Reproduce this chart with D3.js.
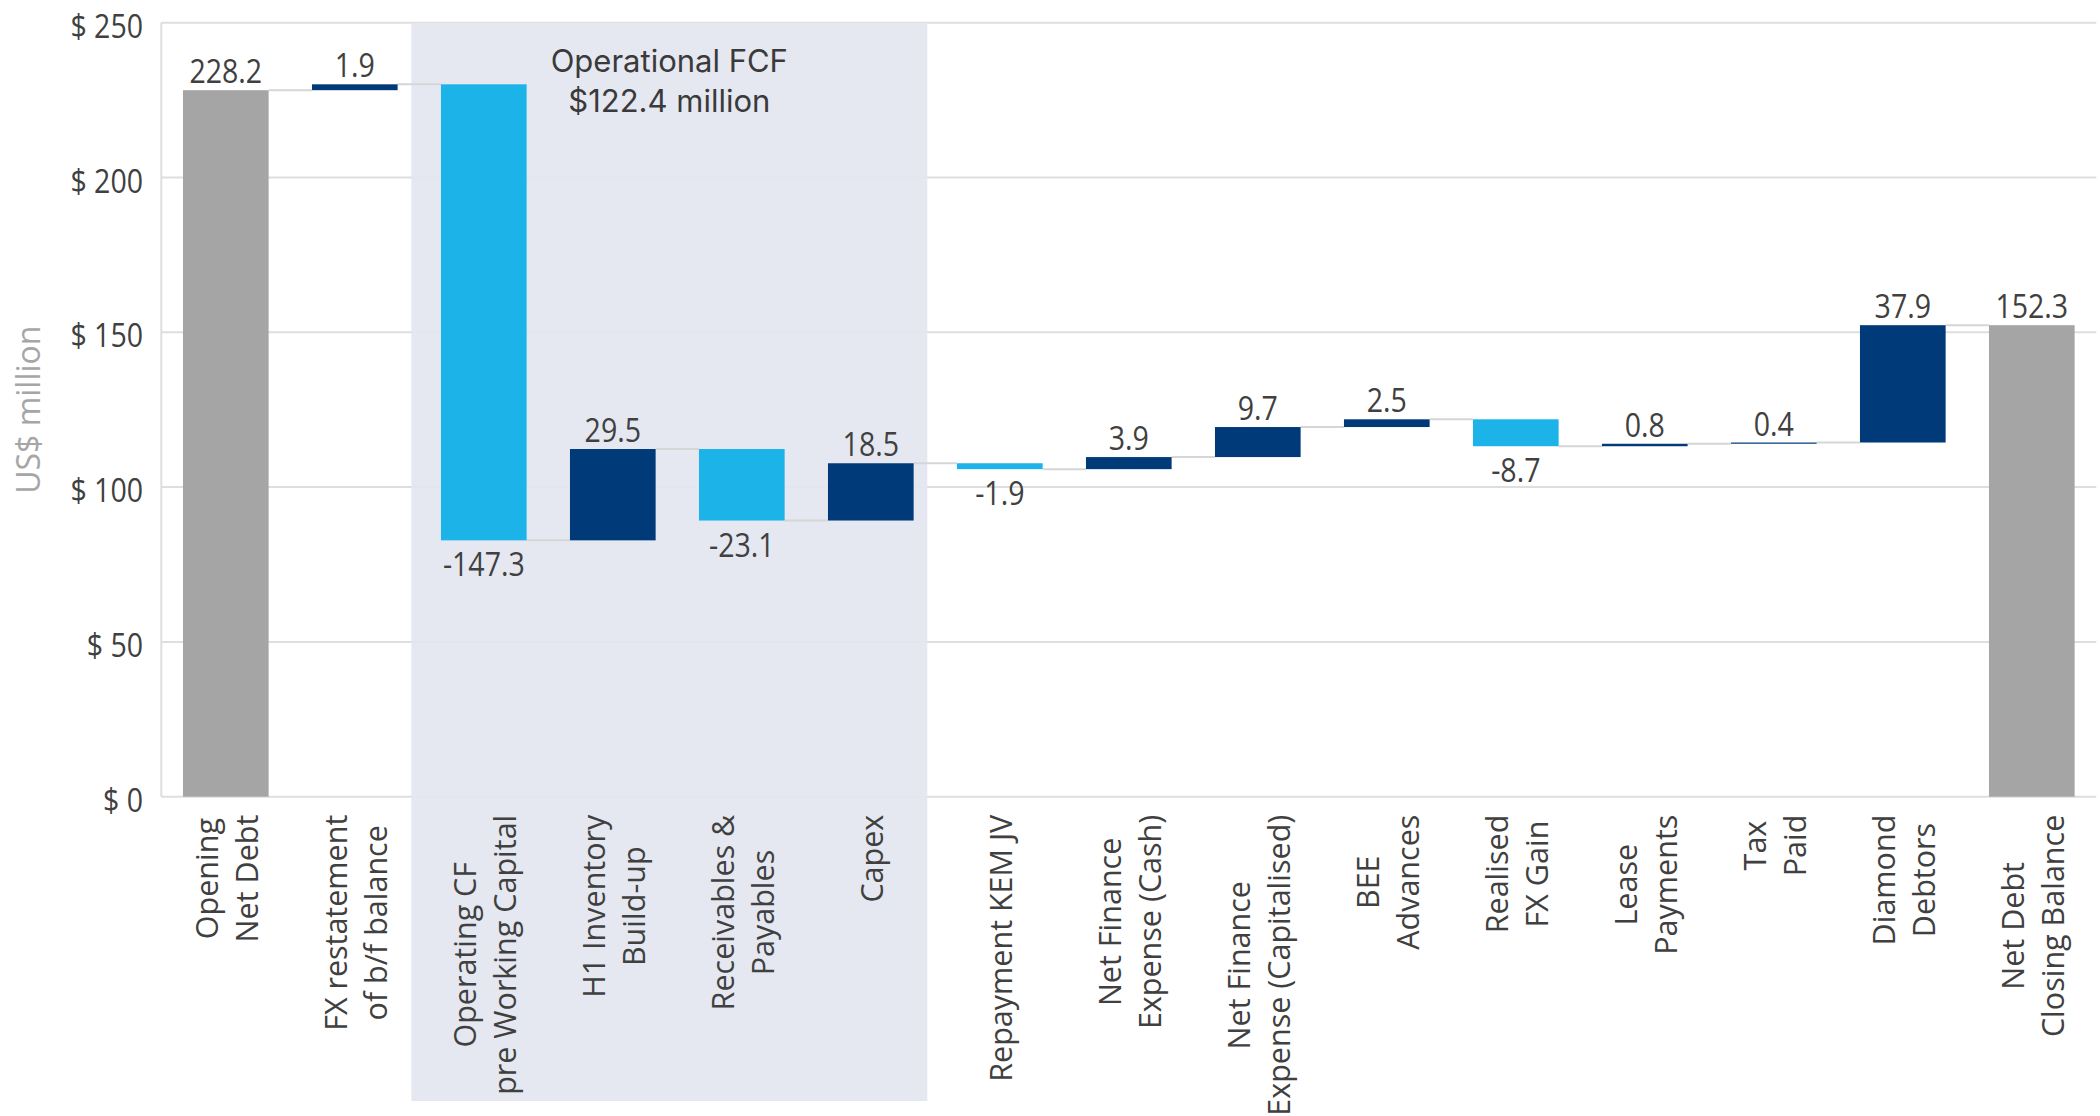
<!DOCTYPE html>
<html>
<head>
<meta charset="utf-8">
<script src="https://cdn.jsdelivr.net/npm/d3@7"></script>
<style>
  html, body { margin: 0; padding: 0; background: #ffffff; }
  svg { display: block; }
</style>
</head>
<body>
<svg id="chart" width="2100" height="1116"></svg>
<script>
// Net debt bridge, US$ million
const categories = [
  "Opening\nNet Debt",
  "FX restatement\nof b/f balance",
  "Operating CF\npre Working Capital",
  "H1 Inventory\nBuild-up",
  "Receivables &\nPayables",
  "Capex",
  "Repayment KEM JV",
  "Net Finance\nExpense (Cash)",
  "Net Finance\nExpense (Capitalised)",
  "BEE\nAdvances",
  "Realised\nFX Gain",
  "Lease\nPayments",
  "Tax\nPaid",
  "Diamond\nDebtors",
  "Net Debt\nClosing Balance"
];
const values = [228.2, 1.9, -147.3, 29.5, -23.1, 18.5, -1.9, 3.9, 9.7, 2.5, -8.7, 0.8, 0.4, 37.9, 152.3];
const kinds  = ["total", "delta", "delta", "delta", "delta", "delta", "delta", "delta",
                "delta", "delta", "delta", "delta", "delta", "delta", "total"];
const yTicks = [0, 50, 100, 150, 200, 250];
const tickLabels = ["$ 0", "$ 50", "$ 100", "$ 150", "$ 200", "$ 250"];
const axisTitle = "US$ million";
const bracketFirst = "Operating CF\npre Working Capital";
const bracketLast = "Capex";
const bracketText = ["Operational FCF", "$122.4 million"];

const colors = { total: "#a5a5a5", up: "#003a78", down: "#1bb3e8" };

const svg = d3.select("#chart");
const plotLeft = 161.3, plotRight = 2096.3, plotTop = 22.7, plotBottom = 796.7;

const x = d3.scaleBand().domain(categories).range([plotLeft, plotRight])
  .paddingInner(0.336).paddingOuter(0.168);
const y = d3.scaleLinear().domain([0, 250]).range([plotBottom, plotTop]);
const bw = x.bandwidth();
const step = x.step();
const fmt = d3.formatLocale({ decimal: ".", thousands: ",", grouping: [3], currency: ["$", ""], minus: "-" }).format(".1f");

// running totals for the waterfall
let running = 0;
const bars = categories.map((c, i) => {
  const v = values[i];
  let start, end;
  if (kinds[i] === "total") { start = 0; end = v; }
  else { start = running; end = running + v; }
  running = end;
  const fill = kinds[i] === "total" ? colors.total : (v >= 0 ? colors.up : colors.down);
  return { cat: c, value: v, start, end, lo: Math.min(start, end), hi: Math.max(start, end), fill, kind: kinds[i] };
});

// horizontal gridlines
svg.append("g").selectAll("line").data(yTicks).join("line")
  .attr("x1", plotLeft).attr("x2", plotRight)
  .attr("y1", d => y(d)).attr("y2", d => y(d))
  .attr("stroke", "#dedede").attr("stroke-width", 2);

// vertical axis line
svg.append("line")
  .attr("x1", plotLeft).attr("x2", plotLeft).attr("y1", y(0)).attr("y2", y(250))
  .attr("stroke", "#dedede").attr("stroke-width", 2);

// shaded band behind the operating items
const bx0 = x(bracketFirst) - step * x.paddingInner() / 2 - 8;
const bx1 = x(bracketLast) + bw + step * x.paddingInner() / 2 - 8;
svg.append("rect")
  .attr("x", bx0).attr("y", y(250))
  .attr("width", bx1 - bx0).attr("height", 1101 - y(250))
  .attr("fill", "#e3e6ef").attr("fill-opacity", 0.93);

// connectors between consecutive bars
svg.append("g").selectAll("line").data(bars.slice(0, -1)).join("line")
  .attr("x1", d => x(d.cat) + bw)
  .attr("x2", (d, i) => x(categories[i + 1]))
  .attr("y1", d => y(d.end)).attr("y2", d => y(d.end))
  .attr("stroke", "#d6d6d6").attr("stroke-width", 2);

// bars
svg.append("g").selectAll("rect").data(bars).join("rect")
  .attr("x", d => x(d.cat))
  .attr("y", d => y(d.hi))
  .attr("width", bw)
  .attr("height", d => Math.max(1, y(d.lo) - y(d.hi)))
  .attr("fill", d => d.fill);

// value labels
svg.append("g").selectAll("text").data(bars).join("text")
  .attr("transform", d => {
    const cx = x(d.cat) + bw / 2;
    const by = d.value < 0 ? y(d.lo) + 36 : y(d.hi) - 7;
    return `translate(${cx},${by}) scale(0.92,1.04)`;
  })
  .attr("text-anchor", "middle")
  .attr("font-family", "'Open Sans', 'Noto Sans', sans-serif")
  .attr("font-size", 31)
  .attr("fill", "#404040")
  .text(d => fmt(d.value));

// y tick labels
svg.append("g").selectAll("text").data(yTicks).join("text")
  .attr("transform", d => `translate(143,${y(d) + 15}) scale(0.92,1.04)`)
  .attr("text-anchor", "end")
  .attr("font-family", "'Open Sans', 'Noto Sans', sans-serif")
  .attr("font-size", 31)
  .attr("fill", "#404040")
  .text((d, i) => tickLabels[i]);

// y axis title
svg.append("text")
  .attr("transform", `translate(40,${(y(0) + y(250)) / 2}) rotate(-90)`)
  .attr("text-anchor", "middle")
  .attr("font-family", "'Open Sans', 'Noto Sans', sans-serif")
  .attr("font-size", 32)
  .attr("fill", "#a6a6a6")
  .text(axisTitle);

// rotated category labels, lines centred on each other, block hanging below the axis
const catG = svg.append("g");
categories.forEach(c => {
  const lines = c.split("\n");
  const t = catG.append("text")
    .attr("text-anchor", "middle")
    .attr("font-family", "'Open Sans', 'Noto Sans', sans-serif")
    .attr("font-size", 30.5)
    .attr("fill", "#404040");
  lines.forEach((ln, j) => {
    t.append("tspan").attr("x", 0)
      .attr("y", (j - (lines.length - 1) / 2) * 40 + 12)
      .text(ln);
  });
  const maxLen = d3.max(t.selectAll("tspan").nodes(), n => n.getComputedTextLength());
  t.attr("transform", `translate(${x(c) + bw / 2},${y(0) + 18 + maxLen / 2}) rotate(-90)`);
});

// bracket annotation
const ann = svg.append("text")
  .attr("text-anchor", "middle")
  .attr("font-family", "Inter, 'Open Sans', sans-serif")
  .attr("font-size", 31)
  .attr("fill", "#3a3a3a");
bracketText.forEach((ln, j) => {
  ann.append("tspan").attr("x", (bx0 + bx1) / 2)
    .attr("y", y(250) + 49 + j * 40)
    .text(ln);
});
</script>
</body>
</html>
